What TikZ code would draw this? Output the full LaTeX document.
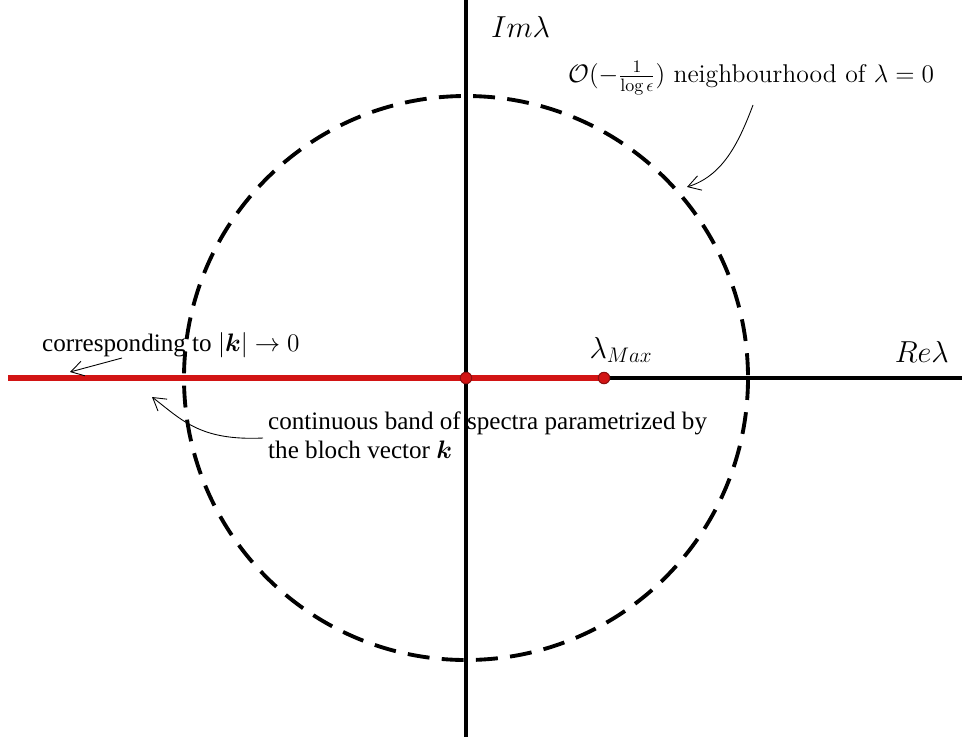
\documentclass[tikz,border=0pt]{standalone}
\usepackage{amsmath,amssymb}
\usepackage{fontspec}
\newfontfamily\timesfont{Liberation Serif}
\usetikzlibrary{arrows.meta}
\definecolor{bandred}{RGB}{210,20,20}
\definecolor{dotred}{RGB}{140,15,15}

\begin{document}
\begin{tikzpicture}[
    x=0.02cm, y=-0.02cm,
    axis/.style={line width=2pt},
    band/.style={line width=3.3pt, draw=bandred},
    hood/.style={line width=2.2pt, dash pattern=on 12.5pt off 7pt},
    dot/.style={circle, fill=bandred, draw=dotred, line width=0.6pt,
                inner sep=0pt, minimum size=6.5pt},
    note/.style={-{Straight Barb[length=2.5mm, width=3mm]}, line width=0.5pt},
    lbl/.style={font=\fontsize{18}{21}\selectfont},
    txt/.style={font=\timesfont\fontsize{14.3}{16}\selectfont, align=left}
  ]
  \useasboundingbox (0,0) rectangle (962,737);

  % Axes
  \coordinate (O) at (466,378);
  \coordinate (west) at (8,378);
  \coordinate (east) at (962,378);
  \coordinate (north) at (466,0);
  \coordinate (south) at (466,737);
  \draw[axis] (west) -- (east);
  \draw[axis] (north) -- (south);

  % Neighbourhood of zero
  \draw[hood] (O) circle[radius=282];

  % Spectral band
  \coordinate (lmax) at (604,378);
  \draw[band] (west) -- (lmax);
  \node[dot] (origin) at (O) {};
  \node[dot] (max) at (lmax) {};

  % Axis labels
  \node[lbl, anchor=west] (im) at (485,27) {$Im\lambda$};
  \node[lbl, anchor=east] (re) at (955,352) {$Re\lambda$};
  \node[lbl] (maxlbl) at (621,350) {$\lambda_{Max}$};

  % Notes
  \node[txt, anchor=west] (corr) at (36,345)
    {corresponding to $|\boldsymbol{k}|\rightarrow 0$};
  \node[txt, anchor=north west] (bandlbl) at (262,406)
    {continuous band of spectra parametrized by\\the bloch vector $\boldsymbol{k}$};
  \node[font=\fontsize{14.6}{17}\selectfont, anchor=west] (hoodlbl) at (562,78)
    {$\mathcal{O}(-\frac{1}{\log\epsilon})$ neighbourhood of $\lambda=0$};

  % Pointers
  \coordinate (corrfoot) at (122,358);
  \coordinate (corrtip) at (70,372);
  \coordinate (bandfoot) at (263,438);
  \coordinate (bandtip) at (152,397);
  \coordinate (hoodfoot) at (753,105);
  \coordinate (hoodtip) at (687,187);
  \draw[note] (corrfoot) -- (corrtip);
  \draw[note] (bandfoot) .. controls (200,441) and (182,420) .. (bandtip);
  \draw[note] (hoodfoot) .. controls (738,145) and (722,176) .. (hoodtip);
\end{tikzpicture}
\end{document}
